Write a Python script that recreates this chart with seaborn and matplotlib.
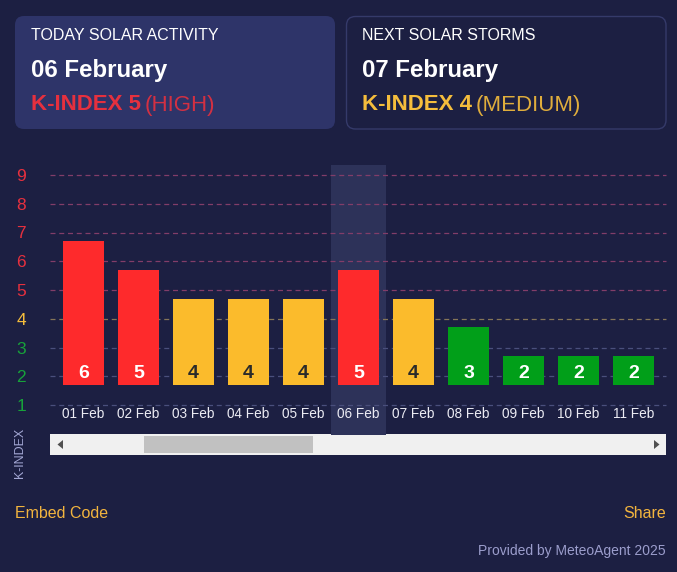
import seaborn as sns
import matplotlib.pyplot as plt
import pandas as pd
from matplotlib.patches import FancyBboxPatch, Rectangle, Polygon

# data
days = ['01 Feb', '02 Feb', '03 Feb', '04 Feb', '05 Feb', '06 Feb',
        '07 Feb', '08 Feb', '09 Feb', '10 Feb', '11 Feb']
kindex = [6, 5, 4, 4, 4, 5, 4, 3, 2, 2, 2]
levels = [1, 2, 3, 4, 5, 6, 7, 8, 9]
today = '06 Feb'

BG = '#1c1f42'
RED = '#fe2a2c'
ORANGE = '#fbbb2c'
GREEN = '#019f19'
TXT_RED = '#e6303e'
TXT_OR = '#f5bd3c'
TXT_GR = '#17a23a'


def level_color(v):
    if v >= 5:
        return RED
    if v == 4:
        return ORANGE
    return GREEN


def tick_color(v):
    if v >= 5:
        return TXT_RED
    if v == 4:
        return TXT_OR
    return TXT_GR


sns.set_theme(style='dark')
plt.rcParams['font.family'] = ['Liberation Sans', 'DejaVu Sans']

W, H = 677, 572
fig = plt.figure(figsize=(W / 100, H / 100), dpi=100, facecolor=BG)

# pixel overlay for cards, scrollbar and footer
bg = fig.add_axes([0, 0, 1, 1], zorder=0)
bg.set_xlim(0, W)
bg.set_ylim(H, 0)
bg.axis('off')
bg.set_facecolor(BG)

bg.add_patch(FancyBboxPatch((15, 16), 320, 113, boxstyle='round,pad=0,rounding_size=9',
                            fc='#2e3469', ec='none'))
bg.add_patch(FancyBboxPatch((346.5, 16.5), 319.5, 112.5, boxstyle='round,pad=0,rounding_size=9',
                            fc=BG, ec='#353a6a', lw=1))

fig.canvas.draw()
rend = fig.canvas.get_renderer()


def two_part(x, y, bold_txt, rest_txt, color):
    t = bg.text(x, y, bold_txt, color=color, fontsize=16, fontweight='bold', va='center')
    bb = t.get_window_extent(renderer=rend)
    x2 = x + bb.width + 4
    bg.text(x2, y, rest_txt, color=color, fontsize=16, va='center', alpha=0.9)


bg.text(31, 36, 'TODAY SOLAR ACTIVITY', color='white', fontsize=11.5, va='center')
bg.text(31, 70, '06 February', color='white', fontsize=17.3, fontweight='bold', va='center')
two_part(31, 105, 'K-INDEX 5', '(HIGH)', TXT_RED)

bg.text(362, 36, 'NEXT SOLAR STORMS', color='white', fontsize=11.5, va='center')
bg.text(362, 70, '07 February', color='white', fontsize=17.3, fontweight='bold', va='center')
two_part(362, 105, 'K-INDEX 4', '(MEDIUM)', TXT_OR)

# scrollbar
bg.add_patch(Rectangle((50, 434), 616, 21, fc='#f0f0f0', ec='none'))
bg.add_patch(Rectangle((144, 436), 169, 17, fc='#c1c1c1', ec='none'))
bg.add_patch(Polygon([[57.5, 444.5], [63, 440], [63, 449]], fc='#505050', ec='none'))
bg.add_patch(Polygon([[659.5, 444.5], [654, 440], [654, 449]], fc='#505050', ec='none'))

bg.text(20, 453, 'K-INDEX', color='#a3a7d4', fontsize=9, rotation=90, ha='center', va='center')
bg.text(15, 513, 'Embed Code', color='#f2b43e', fontsize=11.5, va='center')
bg.text(666, 513, 'Share', color='#f2b43e', fontsize=11.5, va='center', ha='right')
bg.text(666, 551, 'Provided by MeteoAgent 2025', color='#9b9dcc', fontsize=10, va='center', ha='right')

# chart axes: x 56..661 px, y 165..405 px
unit = 28.75
top_val = 1 + (405 - 165) / unit
x0, x1 = 56, 661
aw = x1 - x0
ax = fig.add_axes([x0 / W, 1 - 405 / H, aw / W, 240 / H], zorder=1)
ax.set_facecolor('none')

df = pd.DataFrame({'day': days, 'k': kindex})
df['height'] = df['k'] - 1
base = 1.7

# highlight band for today
ti = days.index(today)
ax.axvspan(ti - 0.5, ti + 0.5, ymin=-30 / 240, ymax=1, color='#2d3259', lw=0,
           clip_on=False, zorder=0)

# grid lines (span 50..666 px)
for lv in levels:
    if lv >= 5:
        gc = '#823d69'
    elif lv == 4:
        gc = '#857558'
    else:
        gc = '#4a4f7c'
    ax.axhline(lv, xmin=(50 - x0) / aw, xmax=(666 - x0) / aw, color=gc, lw=0.9,
               ls=(0, (4, 3)), zorder=1, clip_on=False)

sns.barplot(data=df, x='day', y='height', hue='day', legend=False,
            palette=[level_color(v) for v in kindex], width=0.73,
            bottom=base, saturation=1, ax=ax, zorder=2,
            edgecolor='none', linewidth=0)

for i, v in enumerate(kindex):
    c = '#2a2a2a' if v == 4 else 'white'
    ax.text(i, 2.1, str(v), color=c, fontsize=14, fontweight='bold',
            ha='center', va='center', zorder=3)

ax.set_xlim(-0.5, len(days) - 0.5)
ax.set_ylim(1, top_val)
ax.set_yticks(levels)
ax.set_yticklabels([str(v) for v in levels])
for lab, v in zip(ax.get_yticklabels(), levels):
    lab.set_color(tick_color(v))
ax.tick_params(axis='y', length=0, pad=21.5, labelsize=12.5)
ax.tick_params(axis='x', length=0, pad=1.5, labelsize=9.8, labelcolor='#ececf4')
ax.set_xlabel('')
ax.set_ylabel('')
ax.grid(False)
for s in ax.spines.values():
    s.set_visible(False)

fig.savefig('out.png', dpi=100, facecolor=BG)
